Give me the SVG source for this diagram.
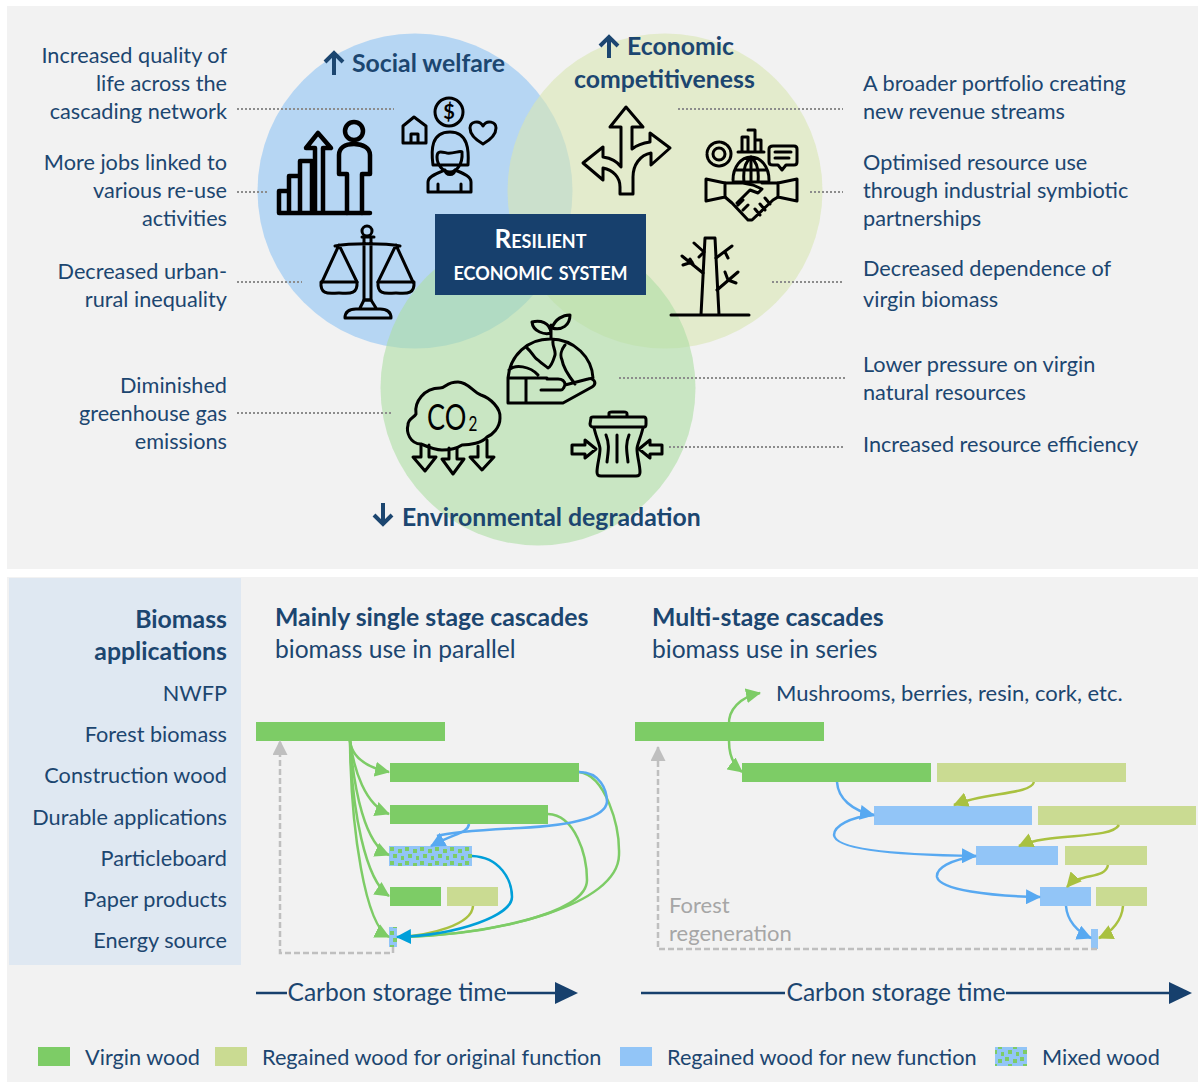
<svg xmlns="http://www.w3.org/2000/svg" width="1198" height="1082" viewBox="0 0 1198 1082">
<style>
text{font-family:"Lato","Carlito","Open Sans",sans-serif;fill:#1c4670;font-size:21.700px}
.r{text-anchor:end}
.h{font-weight:700;font-size:24.800px}
.big{font-size:24.600px}
.lg{font-size:21.700px}
.g{fill:#a6a6a6;font-size:22px}
.lead{stroke:#8c8c8c;stroke-width:2;stroke-dasharray:2 2;fill:none}
.i{fill:none;stroke:#000;stroke-width:3;stroke-linejoin:round;stroke-linecap:round}
.i2{fill:none;stroke:#000;stroke-width:4.500;stroke-linejoin:round;stroke-linecap:round}
.c{fill:none;stroke-width:2.500}
.vg{fill:#7dcc66}.rg{fill:#cadb92}.bl{fill:#92c5f7}
</style>
<defs>
<pattern id="mix" width="15" height="14" patternUnits="userSpaceOnUse" x="389" y="846">
<rect width="15" height="14" fill="#92c5f7"/>
<rect x="1" y="1" width="4" height="4" fill="#7dcc66"/><rect x="9" y="3" width="4" height="4" fill="#7dcc66"/>
<rect x="4" y="8" width="4" height="4" fill="#7dcc66"/><rect x="12" y="10" width="3" height="4" fill="#7dcc66"/>
</pattern>
<marker id="mg" markerUnits="userSpaceOnUse" markerWidth="15" markerHeight="15" refX="14" refY="7.500" orient="auto"><path d="M0 0L15 7.500L0 15Z" fill="#7dcc66"/></marker>
<marker id="mb" markerUnits="userSpaceOnUse" markerWidth="15" markerHeight="15" refX="14" refY="7.500" orient="auto"><path d="M0 0L15 7.500L0 15Z" fill="#58a9f1"/></marker>
<marker id="mt" markerUnits="userSpaceOnUse" markerWidth="15" markerHeight="15" refX="14" refY="7.500" orient="auto"><path d="M0 0L15 7.500L0 15Z" fill="#009fd9"/></marker>
<marker id="my" markerUnits="userSpaceOnUse" markerWidth="15" markerHeight="15" refX="14" refY="7.500" orient="auto"><path d="M0 0L15 7.500L0 15Z" fill="#a9c140"/></marker>
<marker id="mx" markerUnits="userSpaceOnUse" markerWidth="15" markerHeight="15" refX="14" refY="7.500" orient="auto"><path d="M0 0L15 7.500L0 15Z" fill="#bfbfbf"/></marker>
</defs>
<rect width="1198" height="1082" fill="#fff"/>
<rect x="7" y="6" width="1191" height="563" fill="#f2f2f2"/>
<rect x="7" y="577" width="1191" height="505" fill="#f2f2f2"/>
<rect x="9" y="578" width="232" height="387" fill="#dfe8f2"/>

<g id="venn">
<circle cx="415" cy="191" r="157.500" fill="#8ec3f4" fill-opacity=".6"/>
<circle cx="665" cy="191" r="157.500" fill="#d9e6b3" fill-opacity=".6"/>
<circle cx="538" cy="388" r="157.500" fill="#aedea4" fill-opacity=".6"/>
</g>

<g id="leaders">
<path class="lead" d="M237 109H394M237 192H267M237 282H302M237 413H392M678 109H843M810 192H843M772 282H843M619 378H845M669 447H845"/>
</g>

<g id="center-node">
<rect x="435" y="214" width="211" height="81" fill="#17406d"/>
<text x="540.500" y="248" text-anchor="middle" style="fill:#fff;font-weight:700;font-size:26px;font-variant:small-caps">Resilient</text>
<text x="540.500" y="280" text-anchor="middle" style="fill:#fff;font-weight:700;font-size:26px;font-variant:small-caps">economic system</text>
</g>

<g id="social-welfare">
<path d="M334 75V53M325 62L334 53L343 62" fill="none" stroke="#1c4670" stroke-width="4"/>
<text class="h" x="352" y="72">Social welfare</text>
</g>
<g id="economic-competitiveness">
<path d="M609 58V37M600 46L609 37L618 46" fill="none" stroke="#1c4670" stroke-width="4"/>
<text class="h" x="627" y="55">Economic</text>
<text class="h" x="574" y="88">competitiveness</text>
</g>
<g id="environmental-degradation">
<path d="M383 503V524M374 515L383 524L392 515" fill="none" stroke="#1c4670" stroke-width="4"/>
<text class="h" x="402" y="526">Environmental degradation</text>
</g>

<g id="icon-growth">
<path class="i2" d="M279 213H370M279 213V191H289V213M289 191V176H300V213M300 176V161H312V213M315 213V148H306L318 133L331 148H323V213"/>
<circle class="i2" cx="354" cy="131" r="9"/>
<path class="i2" d="M347 213V174H339V155C339 148 345 144 354 144C363 144 370 148 370 155V174H362V213"/>
</g>
<g id="icon-woman">
<circle class="i" cx="449" cy="112" r="14"/>
<text x="449" y="119" text-anchor="middle" style="font-size:20px;font-weight:700;fill:#000">$</text>
<path class="i" d="M403 126V143H426V126M403 126L414 117L426 126M411 143V134H418V143"/>
<path class="i" d="M483 144C476 140 470 134 470 128C470 122 479 119 483 126C487 119 496 122 496 128C496 135 490 140 483 144Z"/>
<path class="i" d="M433 165C431 150 431 132 450 132C468 132 469 150 468 165ZM437 157C437 150 442 152 447 153C453 154 461 150 462 152C463 165 456 172 450 172C443 172 437 165 437 157Z"/>
<path class="i" d="M428 192V182C428 176 438 173 445 170C446 176 454 176 455 170C462 173 471 176 471 182V192ZM438 192V184M461 192V184"/>
</g>
<g id="icon-scale">
<circle class="i" cx="367" cy="231" r="5"/>
<path class="i" d="M362 237H374M364 237V300H371V237M335 246C350 243 385 243 400 246M339 245L322 282M339 245L357 282M396 245L378 282M396 245L413 282"/>
<path class="i" d="M321 282H357C358 296 347 293 339 293C330 293 320 296 321 282ZM378 282H414C415 296 404 293 396 293C387 293 377 296 378 282Z"/>
<path class="i" d="M360 308L364 300H371L376 308M345 318C345 311 350 309 356 309H380C386 309 391 311 391 318Z"/>
</g>
<g id="icon-arrows">
<path class="i" d="M626 107L643 127H632V149C637 145 643 143 650 142V133L670 148L651 165V153C640 155 633 165 633 177V194H620V187C620 177 613 170 603 168V180L583 163L603 147V157C610 158 617 161 621 167V127H610Z"/>
</g>
<g id="icon-handshake">
<circle class="i" cx="719" cy="154" r="6"/><circle class="i" cx="719" cy="154" r="12" stroke-dasharray="5 1.500" stroke-linecap="butt"/>
<path class="i" d="M738 152H764M742 152V137H748V152M748 130H755V152M755 140H761V152"/>
<path class="i" d="M769 149C769 147 771 146 773 146H794C796 146 797 147 797 149V162C797 164 796 165 794 165H786L782 170L778 165H773C771 165 769 164 769 162ZM775 152H791M775 158H789"/>
<path class="i" d="M733 180C733 167 741 157 751 157C761 157 769 167 769 180M733 182H769M735 170H767M751 157V182M751 157C745 162 743 172 744 182M751 157C757 162 759 172 758 182"/>
<path class="i" d="M706 179L725 183V197L706 201ZM797 179L778 183V197L797 201Z"/>
<path class="i" d="M725 183H743L753 185L762 189L758 193L750 190L737 203M762 183H778M725 197L732 203L748 220M778 197L773 200L752 220L748 220M738 205L743 200M743 210L748 205M765 198L770 204M760 204L765 210M755 209L760 215"/>
</g>
<g id="icon-tree">
<path class="i" d="M671 315H749M701 315L705 238H715L719 315"/>
<path class="i" d="M703 273L682 256M693 264L690 259M692 262L683 265M704 252L694 243M704 252L699 257M716 258L732 246M725 252L728 258M717 290L738 272M728 280L725 272M728 280L736 283"/>
</g>
<g id="icon-earth">
<path class="i" d="M508 378C510 355 528 339 550 339C575 339 592 358 593 378M508 378V403H563L592 387C598 383 593 377 588 379L565 385C565 381 562 379 558 379H547M508 378H547M526 378V402M509 370C515 364 530 366 538 375M551 339V325M551 333C545 335 533 332 532 322C540 320 550 322 551 333ZM552 328C555 319 563 315 570 315C570 325 562 331 552 328ZM541 390H561C563 390 565 386 565 384M527 348C532 352 534 358 538 360C542 364 546 366 548 368C552 366 554 358 555 355C556 350 552 346 553 341M565 345C561 350 560 356 562 360C563 367 568 375 575 384"/>
</g>
<g id="icon-co2">
<path class="i" d="M421 444C410 444 406 432 408 425C408 418 414 418 416 414C414 402 424 388 440 388C446 388 446 382 458 382C468 382 473 392 481 395C490 398 501 408 500 418C500 428 492 435 487 437C482 443 470 445 462 445C456 449 450 450 442 450C436 450 428 447 421 444Z"/>
<text transform="translate(427 430) scale(.73 1)" style="font-size:37px;fill:#000">CO<tspan dx="3" dy="1" style="font-size:21px;fill:#000">2</tspan></text>
<path class="i" d="M421 445V457H413L425 471L436 457H429V445M449 448V459H442L453 474L464 459H457V448M478 446V457H470L482 470L494 457H487V440"/>
</g>
<g id="icon-bin">
<path class="i" d="M591 418C591 417 592 417 593 417H644C645 417 646 418 646 420V424C646 426 645 427 644 427H593C592 427 590 426 590 424ZM609 417V413C609 412 611 412 612 412H624C626 412 627 412 627 414V417"/>
<path class="i" d="M594 428C597 440 600 445 600 449C600 456 597 465 597 472C597 475 598 476 601 476H636C639 476 640 475 640 472C640 465 637 456 637 449C637 445 640 440 643 428"/>
<path class="i" d="M606 435C610 445 608 452 607 462M617 435V462M629 435C625 445 627 452 628 462"/>
<path class="i" d="M572 445H585V440L596 449L585 458V454H572ZM662 445H650V440L639 449L650 458V454H662Z"/>
</g>

<g id="labels-left">
<text class="r" x="227" y="63">Increased quality of</text><text class="r" x="227" y="91">life across the</text><text class="r" x="227" y="119">cascading network</text>
<text class="r" x="227" y="170">More jobs linked to</text><text class="r" x="227" y="198">various re-use</text><text class="r" x="227" y="226">activities</text>
<text class="r" x="227" y="279">Decreased urban-</text><text class="r" x="227" y="307">rural inequality</text>
<text class="r" x="227" y="393">Diminished</text><text class="r" x="227" y="421">greenhouse gas</text><text class="r" x="227" y="449">emissions</text>
</g>
<g id="labels-right">
<text x="863" y="91">A broader portfolio creating</text><text x="863" y="119">new revenue streams</text>
<text x="863" y="170">Optimised resource use</text><text x="863" y="198">through industrial symbiotic</text><text x="863" y="226">partnerships</text>
<text x="863" y="276">Decreased dependence of</text><text x="863" y="307">virgin biomass</text>
<text x="863" y="372">Lower pressure on virgin</text><text x="863" y="400">natural resources</text>
<text x="863" y="452">Increased resource efficiency</text>
</g>

<g id="applications">
<text class="r h" x="227" y="628">Biomass</text><text class="r h" x="227" y="660">applications</text>
<text class="r" x="227" y="701">NWFP</text><text class="r" x="227" y="742">Forest biomass</text><text class="r" x="227" y="783">Construction wood</text><text class="r" x="227" y="825">Durable applications</text><text class="r" x="227" y="866">Particleboard</text><text class="r" x="227" y="907">Paper products</text><text class="r" x="227" y="948">Energy source</text>
</g>
<g id="headers">
<text class="h" x="275" y="626">Mainly single stage cascades</text><text class="big" x="275" y="658">biomass use in parallel</text>
<text class="h" x="652" y="626">Multi-stage cascades</text><text class="big" x="652" y="658">biomass use in series</text>
<text x="776" y="701" style="font-size:22px">Mushrooms, berries, resin, cork, etc.</text>
<text class="g" x="669" y="913">Forest</text><text class="g" x="669" y="941">regeneration</text>
</g>

<g id="bars-single">
<rect class="vg" x="256" y="722" width="189" height="19"/>
<rect class="vg" x="390" y="763" width="189" height="19"/>
<rect class="vg" x="390" y="805" width="158" height="19"/>
<rect x="389" y="846" width="83" height="20" fill="url(#mix)"/>
<rect class="vg" x="390" y="887" width="51" height="19"/>
<rect class="rg" x="447" y="887" width="51" height="19"/>
<rect x="389" y="927" width="8" height="20" fill="url(#mix)"/>
</g>
<g id="bars-multi">
<rect class="vg" x="635" y="722" width="189" height="19"/>
<rect class="vg" x="742" y="763" width="189" height="19"/>
<rect class="rg" x="937" y="763" width="189" height="19"/>
<rect class="bl" x="874" y="806" width="158" height="19"/>
<rect class="rg" x="1038" y="806" width="158" height="19"/>
<rect class="bl" x="976" y="846" width="82" height="19"/>
<rect class="rg" x="1065" y="846" width="82" height="19"/>
<rect class="bl" x="1040" y="887" width="51" height="19"/>
<rect class="rg" x="1096" y="887" width="51" height="19"/>
<rect class="bl" x="1091" y="929" width="7" height="20"/>
</g>

<g id="connectors">
<g stroke="#7dcc66">
<path class="c" marker-end="url(#mg)" d="M350 741C352 757 365 767 389 772"/>
<path class="c" marker-end="url(#mg)" d="M350 741C354 770 365 805 389 814"/>
<path class="c" marker-end="url(#mg)" d="M350 741C354 790 365 845 389 855"/>
<path class="c" marker-end="url(#mg)" d="M350 741C352 810 365 880 389 896"/>
<path class="c" marker-end="url(#mg)" d="M350 741C351 830 365 925 389 937"/>
<path class="c" d="M579 772C605 775 620 825 619 855C618 905 500 935 400 937"/>
<path class="c" d="M548 814C575 815 587 855 587 880C587 915 480 935 400 937"/>
<path class="c" marker-end="url(#mg)" d="M729 725C728 710 740 697 760 693"/>
<path class="c" marker-end="url(#mg)" d="M729 741C729 755 733 765 742 772"/>
</g>
<path class="c" stroke="#a9c140" d="M473 906C472 925 430 935 400 937"/>
<path class="c" stroke="#009fd9" marker-end="url(#mt)" d="M472 856C500 857 512 880 512 897C512 915 460 935 397 937"/>
<g stroke="#58a9f1">
<path class="c" d="M579 772C600 772 607 790 607 802C605 820 560 826 520 828C480 830 450 832 437 836"/>
<path class="c" marker-end="url(#mb)" d="M469 824C468 833 455 833 431 846"/>
<path class="c" marker-end="url(#mb)" d="M837 782C838 798 852 811 874 815"/>
<path class="c" marker-end="url(#mb)" d="M874 815C850 817 834 826 834 835C835 850 900 855 976 856"/>
<path class="c" marker-end="url(#mb)" d="M976 856C950 860 936 868 937 877C940 890 990 896 1040 897"/>
<path class="c" marker-end="url(#mb)" d="M1066 906C1067 920 1077 932 1091 938"/>
</g>
<g stroke="#a9c140">
<path class="c" marker-end="url(#my)" d="M1034 782C1030 795 985 792 954 805"/>
<path class="c" marker-end="url(#my)" d="M1119 825C1110 840 1050 832 1019 846"/>
<path class="c" marker-end="url(#my)" d="M1108 865C1105 880 1080 872 1067 887"/>
<path class="c" marker-end="url(#my)" d="M1123 906C1122 920 1112 932 1099 938"/>
</g>
<g stroke="#bfbfbf" stroke-dasharray="6 3">
<path class="c" marker-end="url(#mx)" d="M393 947V953H280V741"/>
<path class="c" marker-end="url(#mx)" d="M1097 949H658V747"/>
</g>
</g>

<g id="axes">
<path d="M256 993H287M507 993H556" stroke="#17406d" stroke-width="2.500" fill="none"/>
<path d="M555 982L578 993L555 1004Z" fill="#17406d"/>
<text class="big" x="397" y="1001" text-anchor="middle" textLength="219">Carbon storage time</text>
<path d="M641 993H785M1006 993H1171" stroke="#17406d" stroke-width="2.500" fill="none"/>
<path d="M1169 982L1192 993L1169 1004Z" fill="#17406d"/>
<text class="big" x="896" y="1001" text-anchor="middle" textLength="219">Carbon storage time</text>
</g>

<g id="legend">
<rect class="vg" x="38" y="1047" width="32" height="19"/><text class="lg" x="85" y="1065">Virgin wood</text>
<rect class="rg" x="215" y="1047" width="32" height="19"/><text class="lg" x="262" y="1065">Regained wood for original function</text>
<rect class="bl" x="620" y="1047" width="32" height="19"/><text class="lg" x="667" y="1065">Regained wood for new function</text>
<rect x="995" y="1047" width="32" height="19" fill="url(#mix)"/><text class="lg" x="1042" y="1065">Mixed wood</text>
</g>
</svg>
